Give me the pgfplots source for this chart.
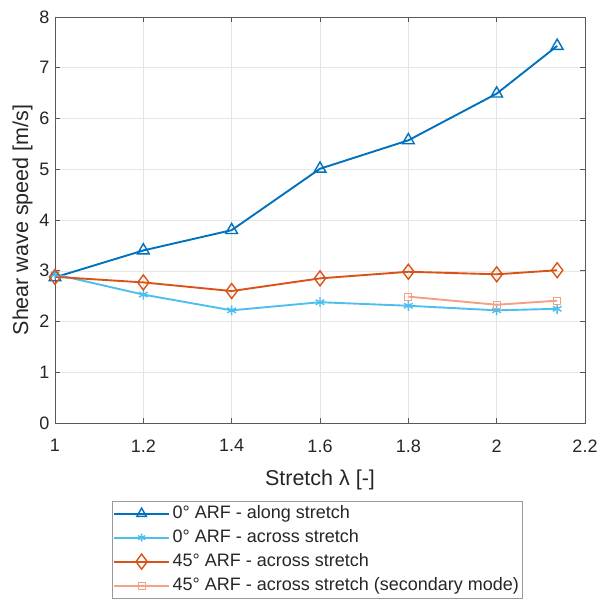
\documentclass[border=0pt]{standalone}
\usepackage{fontspec}
\setmainfont{Liberation Sans}
\usepackage{pgfplots}
\pgfplotsset{compat=1.18}
\definecolor{mblue}{RGB}{0,114,189}
\definecolor{mlblue}{RGB}{77,190,238}
\definecolor{morange}{RGB}{217,83,25}
\definecolor{mlorange}{RGB}{244,160,130}
\definecolor{axgray}{RGB}{38,38,38}
% legend entry: line with one mark in the middle, colour given explicitly
\pgfplotsset{
  leg/.style n args={3}{legend image code/.code={
    \draw[draw=#1, line width=1.9pt] (0bp,0bp) -- (55bp,0bp);
    \draw[draw=#1, line width=1.4pt, fill=white] plot[mark=#2, mark size=#3] coordinates {(27.5bp,0bp)};}},
}
\begin{document}
\begin{tikzpicture}
\useasboundingbox (0,0) rectangle (600bp,600bp);
\begin{axis}[
    at={(55bp,177bp)}, anchor=south west,
    width=530bp, height=406bp, scale only axis,
    xmin=1, xmax=2.2, ymin=0, ymax=8,
    xtick={1,1.2,...,2.2},
    xticklabels={1,1.2,1.4,1.6,1.8,2,2.2},
    ytick={0,1,...,8},
    /pgf/number format/assume math mode=true,
    tick label style={font=\fontsize{18bp}{20bp}\selectfont, text=axgray},
    xticklabel style={yshift=-13bp},
    yticklabel style={xshift=-2bp},
    label style={font=\fontsize{21.5bp}{24bp}\selectfont, text=axgray},
    xlabel style={yshift=-11bp},
    axis line style={draw=gray!70!black, line width=0.6pt},
    tick style={draw=gray!70!black, line width=0.6pt},
    tick align=inside,
    major tick length=5bp,
    grid=major,
    grid style={draw=gray!20, line width=0.5pt},
    xlabel={Stretch λ [-]},
    ylabel={Shear wave speed [m/s]},
    legend style={at={(0.1075,-0.192)}, anchor=north west,
        draw=gray!80, font=\fontsize{18bp}{22bp}\selectfont,
        inner xsep=1bp, inner ysep=0.5bp, row sep=0bp,
        nodes={text=axgray, text height=13bp, text depth=4bp, inner ysep=3.5bp, inner xsep=2.5bp}},
    legend cell align=left,
]
\addplot[draw=mblue, line width=1.9pt, mark=triangle, mark size=6.8bp, mark options={line width=1.4pt},
  leg={mblue}{triangle}{5.5bp}] coordinates {
 (1,2.87) (1.2,3.4) (1.4,3.8) (1.6,5.01) (1.8,5.57) (2.0,6.49) (2.137,7.43)};
\addlegendentry{0° ARF - along stretch}
\addplot[draw=mlblue, line width=1.9pt, mark=asterisk, mark size=5bp, mark options={line width=1.4pt},
  leg={mlblue}{asterisk}{4bp}] coordinates {
 (1,2.93) (1.2,2.53) (1.4,2.22) (1.6,2.38) (1.8,2.31) (2.0,2.22) (2.137,2.25)};
\addlegendentry{0° ARF - across stretch}
\addplot[draw=morange, line width=1.9pt, mark=diamond, mark size=7.5bp, mark options={line width=1.4pt},
  leg={morange}{diamond}{7.5bp}] coordinates {
 (1,2.88) (1.2,2.77) (1.4,2.6) (1.6,2.85) (1.8,2.98) (2.0,2.93) (2.137,3.01)};
\addlegendentry{45° ARF - across stretch}
\addplot[draw=mlorange, line width=1.9pt, mark=square, mark size=3.5bp, mark options={line width=1.2pt},
  leg={mlorange}{square}{3.5bp}] coordinates {
 (1.8,2.49) (2.0,2.33) (2.137,2.41)};
\addlegendentry{45° ARF - across stretch (secondary mode)}
\end{axis}
\end{tikzpicture}
\end{document}
